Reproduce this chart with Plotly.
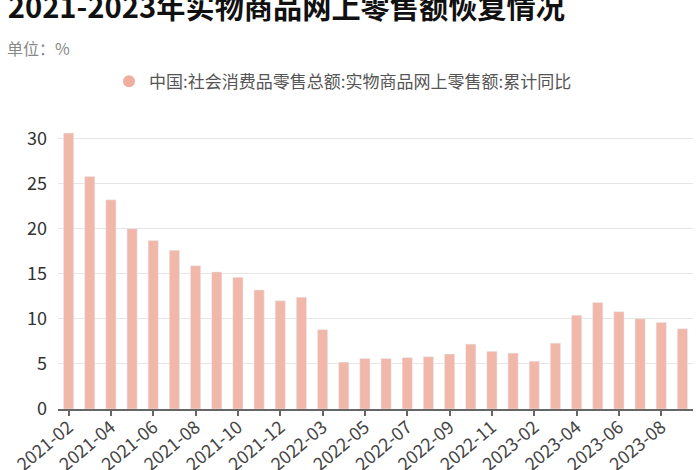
import plotly.graph_objects as go

# 实物商品网上零售额 累计同比（%），1月与2月合并发布
months = [
    "2021-02", "2021-03", "2021-04", "2021-05", "2021-06", "2021-07",
    "2021-08", "2021-09", "2021-10", "2021-11", "2021-12",
    "2022-02", "2022-03", "2022-04", "2022-05", "2022-06", "2022-07",
    "2022-08", "2022-09", "2022-10", "2022-11", "2022-12",
    "2023-02", "2023-03", "2023-04", "2023-05", "2023-06", "2023-07",
    "2023-08", "2023-09",
]
yoy = [
    30.6, 25.8, 23.2, 20.0, 18.7, 17.6, 15.9, 15.2, 14.6, 13.2, 12.0,
    12.4, 8.8, 5.2, 5.6, 5.6, 5.7, 5.8, 6.1, 7.2, 6.4, 6.2,
    5.3, 7.3, 10.4, 11.8, 10.8, 10.0, 9.6, 8.9,
]
tick_labels = months[::2]
y_ticks = [0, 5, 10, 15, 20, 25, 30]

series_name = "中国:社会消费品零售总额:实物商品网上零售额:累计同比"
bar_color = "#F1B8A9"
font = "Noto Sans CJK SC"

fig = go.Figure()
fig.add_trace(go.Bar(
    x=months, y=yoy, marker_color=bar_color, width=0.48,
    showlegend=False, name=series_name,
))
# 图例用圆点
fig.add_trace(go.Scatter(
    x=[months[0]], y=[None], mode="markers", name=series_name,
    marker=dict(symbol="circle", size=15, color="#EFAE9F"),
))

fig.update_layout(
    width=700, height=470,
    margin=dict(l=58, r=7, t=125, b=61),
    paper_bgcolor="white", plot_bgcolor="white",
    font=dict(family=font, color="#333"),
    title=dict(
        text="<b>2021-2023年实物商品网上零售额恢复情况</b>",
        font=dict(size=29.2, color="#111", family=font),
        x=0.011, xanchor="left", xref="container",
        y=0.983, yanchor="middle", yref="container",
    ),
    legend=dict(
        orientation="h", xref="container", x=0.49, xanchor="center",
        yref="container", y=0.826, yanchor="middle",
        font=dict(size=17, color="#555"), itemsizing="constant",
    ),
    bargap=0.5,
    annotations=[dict(
        text="单位：%", xref="paper", yref="paper",
        x=-0.084, y=1.27, xanchor="left", yanchor="middle",
        showarrow=False, font=dict(size=16, color="#888"),
    )],
)
fig.update_xaxes(
    type="category", range=[-0.5, len(months) - 0.5],
    tickmode="array", tickvals=tick_labels, ticktext=tick_labels,
    tickangle=-40, tickfont=dict(size=18, color="#444"), automargin=False,
    showline=True, linecolor="#666", linewidth=1.5,
    ticks="outside", ticklen=5, tickcolor="#666", tickwidth=1.5,
    ticklabelstandoff=-6, showgrid=False,
)
fig.update_yaxes(
    range=[0, 31.5], tickvals=y_ticks, tickfont=dict(size=18, color="#333"),
    showgrid=True, gridcolor="#E6E6E6", gridwidth=1.2, automargin=False,
    zeroline=False, ticks="", ticklabelstandoff=10,
)

# 去掉页面默认边距，让图从左上角开始
fig.write_html(
    "out.html",
    config={"displayModeBar": False},
    post_script="document.body.style.margin='0';",
)
